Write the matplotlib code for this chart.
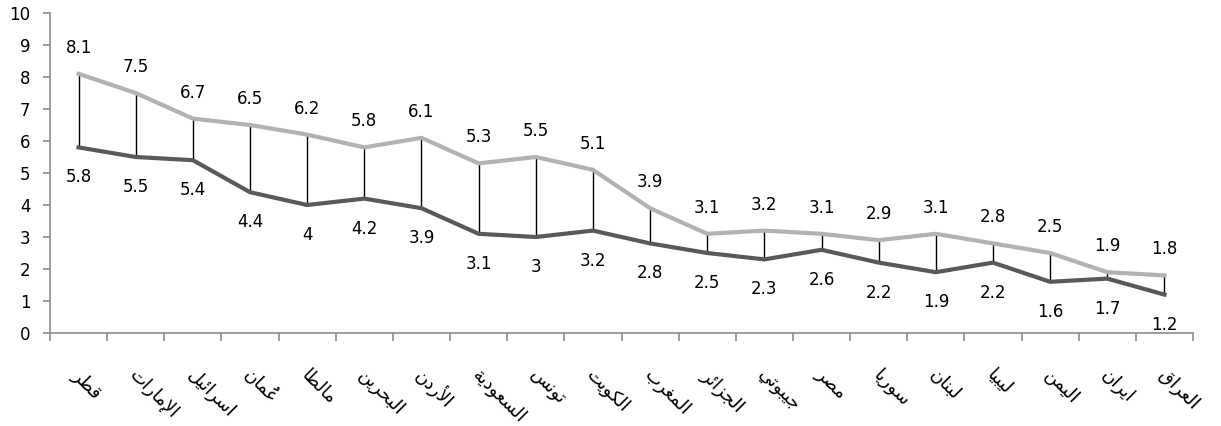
import unicodedata
import matplotlib
matplotlib.use("Agg")
import matplotlib.pyplot as plt
import matplotlib.transforms as mtransforms

#------
#data

countries = ["قطر", "الإمارات", "اسرائيل", "عُمان", "مالطا", "البحرين", "الأردن",
             "السعودية", "تونس", "الكويت", "المغرب", "الجزائر", "جيبوتي", "مصر",
             "سوريا", "لبنان", "ليبيا", "اليمن", "ايران", "العراق"]
high = [8.1, 7.5, 6.7, 6.5, 6.2, 5.8, 6.1, 5.3, 5.5, 5.1,
        3.9, 3.1, 3.2, 3.1, 2.9, 3.1, 2.8, 2.5, 1.9, 1.8]
low = [5.8, 5.5, 5.4, 4.4, 4, 4.2, 3.9, 3.1, 3, 3.2,
       2.8, 2.5, 2.3, 2.6, 2.2, 1.9, 2.2, 1.6, 1.7, 1.2]

#------
#arabic shaping (matplotlib draws glyphs left to right with no joining)

forms = {}
for cp in range(0xFE70, 0xFF00):
    d = unicodedata.decomposition(chr(cp))
    if not d.startswith('<'):
        continue
    tag, *codes = d.split()
    key = ''.join(chr(int(c, 16)) for c in codes)
    forms.setdefault(key, {})[tag[1:-1]] = chr(cp)

marks = set(chr(c) for c in range(0x064B, 0x0653))


def shape(word):
    base = [c for c in word if c not in marks]
    # remember which base letter each mark sits on
    mark_on = {}
    k = -1
    for c in word:
        if c in marks:
            mark_on.setdefault(k, []).append(c)
        else:
            k += 1
    out = []
    prev_joins = False
    i = 0
    n = len(base)
    while i < n:
        c = base[i]
        if c == 'ل' and i + 1 < n and (c + base[i + 1]) in forms:
            lig = forms[c + base[i + 1]]
            out.append(lig['final'] if prev_joins else lig['isolated'])
            prev_joins = False
            i += 2
            continue
        f = forms.get(c, {})
        nxt = base[i + 1] if i + 1 < n else None
        can_next = 'initial' in f and nxt in forms and 'final' in forms[nxt]
        if prev_joins and can_next:
            g = f.get('medial', c)
        elif prev_joins:
            g = f.get('final', c)
        elif can_next:
            g = f.get('initial', c)
        else:
            g = f.get('isolated', c)
        # zero-width mark goes in front of its letter so it lands on top of it
        out.append(g)
        out.append(''.join(mark_on.get(i, [])))
        prev_joins = can_next
        i += 1
    return ''.join(reversed(out))


#------
#plot

fig = plt.figure(figsize=(12.21, 4.26), dpi=100)
ax = fig.add_axes([50 / 1221, 1 - 333 / 426, 1143 / 1221, 320 / 426])

x = [i + 0.5 for i in range(len(countries))]

ax.vlines(x, low, high, color='black', lw=1, zorder=1)
ax.plot(x, high, color='#b2b2b2', lw=3, solid_joinstyle='round', zorder=2)
ax.plot(x, low, color='#595959', lw=3, solid_joinstyle='round', zorder=2)

for xi, h, l in zip(x, high, low):
    ax.annotate(f"{h:g}", (xi, h), xytext=(0, 26), textcoords='offset pixels',
                ha='center', va='center', fontsize=12)
    ax.annotate(f"{l:g}", (xi, l), xytext=(0, -30), textcoords='offset pixels',
                ha='center', va='center', fontsize=12)

ax.set_xlim(0, len(countries))
ax.set_ylim(0, 10)
ax.set_yticks(range(11))
ax.set_xticks(range(len(countries) + 1))
ax.set_xticklabels([])

for s in ['top', 'right']:
    ax.spines[s].set_visible(False)
for s in ['left', 'bottom']:
    ax.spines[s].set_color('#8c8c8c')
    ax.spines[s].set_linewidth(1.2)
ax.tick_params(axis='y', length=5, color='#8c8c8c', width=1.2, labelsize=12, pad=9)
ax.tick_params(axis='x', length=6, color='#8c8c8c', width=1.2)

trans = mtransforms.blended_transform_factory(ax.transData, ax.transAxes)
off = mtransforms.ScaledTranslation(-3 / 100, -39 / 100, fig.dpi_scale_trans)
for xi, name in zip(x, countries):
    ax.text(xi, 0, shape(name), transform=trans + off, rotation=-45,
            rotation_mode='anchor', ha='left', va='center', fontsize=13,
            family='DejaVu Sans')

fig.savefig('out.png', dpi=100)
